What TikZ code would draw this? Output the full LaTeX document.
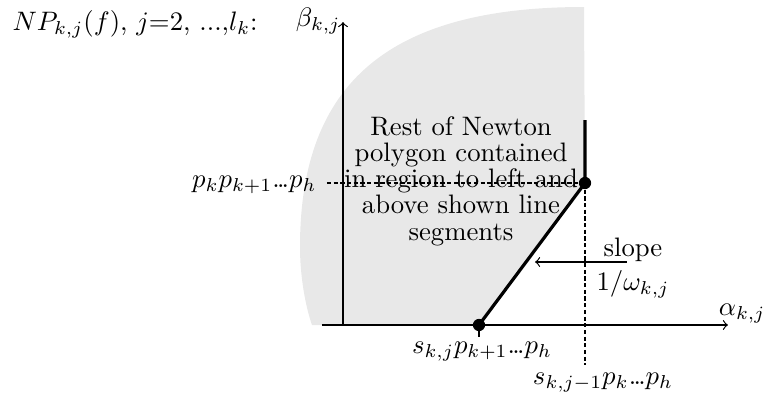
\documentclass[tikz,border=0pt]{standalone}
\newcommand{\tdots}{.\mkern-1.8mu.\mkern-1.8mu.}
\begin{document}
\begin{tikzpicture}[x=0.3745pt,y=-0.3745pt,
  axis/.style={line width=0.45pt,->},
  seg/.style={line width=1.2pt},
  guide/.style={line width=0.4pt,dash pattern=on 1.6pt off 0.9pt},
  dot/.style={circle,fill=black,inner sep=0pt,minimum size=4.6pt},
  lbl/.style={inner sep=0pt}]
\useasboundingbox (0,0) rectangle (767,400);
% shaded region
\fill[gray!18] (479,325) -- (585,183) -- (584,7)
  .. controls (390,7) and (300,82) .. (300,247)
  .. controls (300,275) and (305,305) .. (312,325) -- cycle;
% coordinates
\coordinate (yb) at (343,325);
\coordinate (yt) at (343,22);
\coordinate (xl) at (322,325);
\coordinate (xr) at (728,325);
\coordinate (hl) at (327,183);
\coordinate (vb) at (585,365);
\coordinate (segtop) at (585,120);
\coordinate (tickb) at (479,337);
\coordinate (arrs) at (627,262);
\coordinate (arre) at (535,262);
\node[dot] (p1) at (479,325) {};
\node[dot] (p2) at (585,183) {};
% axes
\draw[axis] (yb) -- (yt);
\draw[axis] (xl) -- (xr);
% guides
\draw[guide] (hl) -- (p2.center);
\draw[guide] (p2.center) -- (vb);
\draw[line width=0.45pt] (p1.center) -- (tickb);
% segments
\draw[seg] (p1.center) -- (p2.center) -- (segtop);
% slope arrow
\draw[line width=0.45pt,->] (arrs) -- (arre);
% labels
\node[lbl,anchor=west] (title) at (12,24) {$NP_{k,j}(f)$, $j$=2, ...,$l_k$:};
\node[lbl,anchor=east] (beta) at (341,21) {$\beta_{k,j}$};
\node[lbl,anchor=east] (alpha) at (766,314) {$\alpha_{k,j}$};
\node[lbl,anchor=east] (pk) at (317,185) {$p_kp_{k+1}\tdots p_h$};
\node[lbl] (sk) at (482,352) {$s_{k,j}p_{k+1}\tdots p_h$};
\node[lbl] (sk1) at (603,383) {$s_{k,j-1}p_k\tdots p_h$};
\node[lbl,align=center] (slope) at (633,268) {slope\\[1pt]$1/\omega_{k,j}$};
\node[lbl,align=center,font=\fontsize{10}{9.85}\selectfont] (rest) at (461,181) {Rest of Newton\\polygon contained\\in region to left and\\above shown line\\segments};
\end{tikzpicture}
\end{document}
